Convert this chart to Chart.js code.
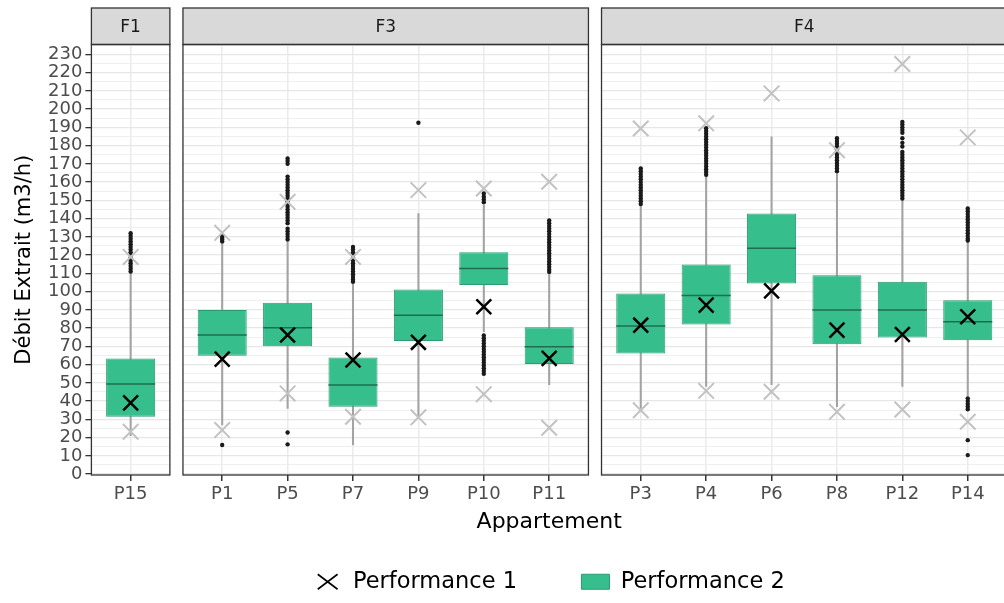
<!DOCTYPE html>
<html>
<head>
<meta charset="utf-8">
<title>Débit extrait par appartement</title>
<script src="https://cdn.jsdelivr.net/npm/chart.js@4.4.1/dist/chart.umd.min.js"></script>
<style>
  html, body { margin: 0; padding: 0; background: #fff; overflow: hidden; }
  #wrap { position: relative; width: 1020px; height: 603px; }
</style>
</head>
<body>
<div id="wrap"><canvas id="chart" width="1020" height="603"></canvas></div>
<script>
// facets and their apartments
const groups = ['F1', 'F3', 'F4'];
const groupMembers = [
  ['P15'],
  ['P1', 'P5', 'P7', 'P9', 'P10', 'P11'],
  ['P3', 'P4', 'P6', 'P8', 'P12', 'P14']
];
const categories = groupMembers.flat();

// Performance 2 (boxplot), one value per apartment, same order as categories
const whiskerLow  = [21, 27, 36, 16, 31, 78, 49, 36, 48, 49, 37, 48, 43];
const q1          = [31.4, 64.8, 70.1, 36.9, 72.9, 103.6, 60.3, 66.1, 82.0, 104.5, 71.2, 74.9, 73.4];
const median      = [49.3, 76.2, 80.2, 48.8, 87.1, 112.7, 69.8, 81.1, 97.9, 123.7, 89.9, 89.9, 83.5];
const q3          = [63.4, 89.9, 93.9, 63.9, 101.2, 121.5, 80.4, 99.0, 114.9, 142.8, 109.0, 105.4, 95.3];
const whiskerHigh = [110, 126.5, 127, 104, 142.8, 147.5, 110, 147, 163, 184.8, 165, 150, 127];
const outliers = [
  [132, 130.5, 129, 127.5, 126, 124.5, 123, 121.5, 120, 118.5, 117, 115.5, 114, 112.5, 111],
  [130.5, 129.5, 128.5, 127.5, 15.9],
  [173, 171.5, 170, 163, 161.5, 160, 158.5, 157, 155.5, 154, 152.5, 151, 149.5, 148, 146.5, 145, 143.5,
   142, 140.5, 139, 137.5, 134.5, 133, 131.5, 130, 128.5, 22.8, 16.3],
  [124.5, 123, 121.5, 120, 118.5, 117, 115.5, 114, 112.5, 111, 109.5, 108, 106.5, 105.4],
  [192.5],
  [153.8, 152, 150.5, 149, 76, 74.5, 73, 71.5, 70, 68.5, 67, 65.5, 64, 62.5, 61, 59.5, 58, 56.5, 55],
  [139, 137.5, 136, 134.5, 133, 131.5, 130, 128.5, 127, 125.5, 124, 122.5, 121, 119.5, 118, 116.5, 115,
   113.5, 112, 110.8],
  [167.5, 166, 164.5, 163, 161.5, 160, 158.5, 157, 155.5, 154, 152.5, 151, 149.5, 148],
  [189.5, 188, 186.5, 185, 183.5, 182, 180.5, 179, 177.5, 176, 174.5, 173, 171.5, 170, 168.5, 167, 165.5, 164],
  [],
  [184, 182.5, 181, 179.5, 178, 176.5, 175, 173.5, 172, 170.5, 169, 167.5, 166],
  [193, 191.5, 190, 188.5, 187, 184, 181.5, 179.5, 176.5, 175, 173.5, 172, 170.5, 169, 167.5, 166, 164.5,
   163, 161.5, 160, 158.5, 157, 155.5, 154, 152.5, 151],
  [145.5, 144, 142.5, 141, 139.5, 138, 136.5, 135, 133.5, 132, 130.5, 129, 128, 41.5, 40, 38.5, 37, 35.5,
   18.6, 10.4]
];

// Performance 1
const perf1     = [39, 63, 76.2, 62.5, 72.2, 91.7, 63.4, 81.6, 92.6, 100.4, 78.9, 76.5, 86.2];
const perf1High = [119, 132.2, 149.2, 119, 155.6, 156.5, 160.2, 189.4, 192.2, 208.6, 177.5, 224.7, 184.5];
const perf1Low  = [23.2, 24.1, 44.2, 31.4, 31.1, 43.8, 25.4, 35, 45.6, 45.1, 34.1, 35.4, 28.7];

// facet layout on one linear x axis (ggplot-like discrete expansion, small gap between panels)
const EXPAND = 0.6, GAP = 0.2, STRIP_TOP = 8;
let cursor = 0;
const panels = groupMembers.map((members, i) => {
  const start = cursor;
  const end = start + members.length - 1 + 2 * EXPAND;
  cursor = end + GAP;
  return { label: groups[i], start, end, xs: members.map((m, j) => start + EXPAND + j) };
});
const xPos = panels.flatMap(p => p.xs);
const xMax = panels[panels.length - 1].end;

const boxData = categories.map((c, i) => ({ x: xPos[i], y: [q1[i], q3[i]] }));
const whiskerData = categories.map((c, i) => ({ x: xPos[i], y: [whiskerLow[i], whiskerHigh[i]] }));
const medianData = categories.map((c, i) => ({ x: xPos[i], y: median[i] }));
const outlierData = outliers.flatMap((list, i) => list.map(v => ({ x: xPos[i], y: v })));
const perf1Data = categories.map((c, i) => ({ x: xPos[i], y: perf1[i] }));
const perf1Range = categories.flatMap((c, i) => [
  { x: xPos[i], y: perf1High[i] },
  { x: xPos[i], y: perf1Low[i] }
]);

function boxHalfWidth(ctx) {
  const x = ctx.chart.scales.x;
  return (x.getPixelForValue(1) - x.getPixelForValue(0)) * 0.75 / 2;
}

const facetPlugin = {
  id: 'facets',
  beforeDatasetsDraw(chart) {
    const { ctx, chartArea: a, scales: { x } } = chart;
    ctx.save();
    ctx.fillStyle = '#fff';
    for (let i = 1; i < panels.length; i++) {
      const l = x.getPixelForValue(panels[i - 1].end);
      const r = x.getPixelForValue(panels[i].start);
      ctx.fillRect(l, a.top - 1, r - l, a.bottom - a.top + 2);
    }
    ctx.restore();
  },
  afterDatasetsDraw(chart) {
    const { ctx, chartArea: a, scales: { x } } = chart;
    ctx.save();
    panels.forEach(p => {
      const l = x.getPixelForValue(p.start);
      const r = x.getPixelForValue(p.end);
      ctx.fillStyle = '#d9d9d9';
      ctx.fillRect(l, STRIP_TOP, r - l, a.top - STRIP_TOP);
      ctx.strokeStyle = '#333';
      ctx.lineWidth = 1.3;
      ctx.strokeRect(l, STRIP_TOP, r - l, a.top - STRIP_TOP);
      ctx.strokeRect(l, a.top, r - l, a.bottom - a.top);
      ctx.fillStyle = '#1a1a1a';
      ctx.font = '17px "DejaVu Sans"';
      ctx.textAlign = 'center';
      ctx.textBaseline = 'middle';
      ctx.fillText(p.label, (l + r) / 2, (STRIP_TOP + a.top) / 2 + 1);
    });
    ctx.restore();
  }
};

Chart.defaults.font.family = '"DejaVu Sans", sans-serif';

// the x axis box only holds the tick labels; its title hangs below it, next to the legend,
// which leaves room for a wide gap between the two legend keys
const PLOT_BOTTOM = 475, X_AXIS_H = 31, LEGEND_FONT = 22.5;
const LEGEND_GAP = 603 - PLOT_BOTTOM - X_AXIS_H - LEGEND_FONT - 10;

new Chart(document.getElementById('chart'), {
  type: 'bar',
  data: {
    datasets: [
      {
        type: 'scatter', label: 'Performance 1', data: perf1Data,
        pointStyle: 'crossRot', radius: 10.5, borderColor: '#000', backgroundColor: '#000',
        borderWidth: 2.5, order: 0
      },
      {
        type: 'scatter', data: perf1Range,
        pointStyle: 'crossRot', radius: 11, borderColor: '#c2c2c2', borderWidth: 2, order: 1
      },
      {
        type: 'scatter', data: medianData,
        pointStyle: 'line', radius: boxHalfWidth, borderColor: '#1e6e4e', borderWidth: 1.5, order: 2
      },
      {
        type: 'scatter', data: outlierData,
        pointStyle: 'circle', radius: 2.2, backgroundColor: '#1a1a1a', borderWidth: 0, order: 3
      },
      {
        label: 'Performance 2', data: boxData,
        backgroundColor: '#36bf8d', borderColor: '#2b9c72', borderWidth: 1, borderSkipped: false,
        grouped: false, barPercentage: 0.75, categoryPercentage: 1, pointStyle: 'rect', order: 4
      },
      {
        data: whiskerData, backgroundColor: '#a3a3a3', barThickness: 1.4, grouped: false, order: 5
      }
    ]
  },
  options: {
    responsive: false,
    animation: false,
    layout: { padding: { top: 44.5, right: 4, bottom: 0, left: 0 } },
    plugins: {
      legend: {
        position: 'bottom',
        fullSize: false,
        labels: {
          usePointStyle: true, pointStyleWidth: 28, boxHeight: 15, padding: LEGEND_GAP,
          color: '#000', font: { size: LEGEND_FONT },
          generateLabels: chart => Chart.defaults.plugins.legend.labels.generateLabels(chart)
            .filter(item => !!item.text)
            .map(item => (item.pointStyle === 'crossRot' ? { ...item, lineWidth: 1.6 } : item))
        }
      },
      tooltip: { enabled: false }
    },
    scales: {
      x: {
        type: 'linear', min: 0, max: xMax, offset: false,
        afterBuildTicks: s => { s.ticks = xPos.map(v => ({ value: v })); },
        afterFit: s => { s.height = X_AXIS_H; },
        ticks: {
          autoSkip: false, maxRotation: 0, padding: 3, color: '#4d4d4d', font: { size: 18 },
          callback: (v, i) => categories[i]
        },
        grid: { offset: false, color: '#ebebeb', lineWidth: 1.5, tickColor: '#333', tickLength: 6 },
        border: { display: false },
        title: {
          display: true, text: 'Appartement', color: '#000', font: { size: 22 },
          padding: { top: 4, bottom: PLOT_BOTTOM + X_AXIS_H - 13.2 - 522 }
        }
      },
      y: {
        min: -0.5, max: 235.4,
        afterFit: s => { s.width = 91.4; },
        ticks: {
          stepSize: 5, includeBounds: false, autoSkip: false, padding: 3,
          color: '#4d4d4d', font: { size: 18 },
          callback: v => (v % 10 === 0 ? v : '')
        },
        grid: {
          color: c => (c.tick.value % 10 === 0 ? '#e6e6e6' : '#efefef'),
          lineWidth: c => (c.tick.value % 10 === 0 ? 1.3 : 1),
          tickColor: c => (c.tick.value % 10 === 0 ? '#333' : 'rgba(0,0,0,0)'),
          tickLength: 6
        },
        border: { display: false },
        title: {
          display: true, text: 'Débit Extrait (m3/h)', color: '#000', font: { size: 21 },
          padding: { top: 12, bottom: 4 }
        }
      }
    }
  },
  plugins: [facetPlugin]
});
</script>
</body>
</html>
